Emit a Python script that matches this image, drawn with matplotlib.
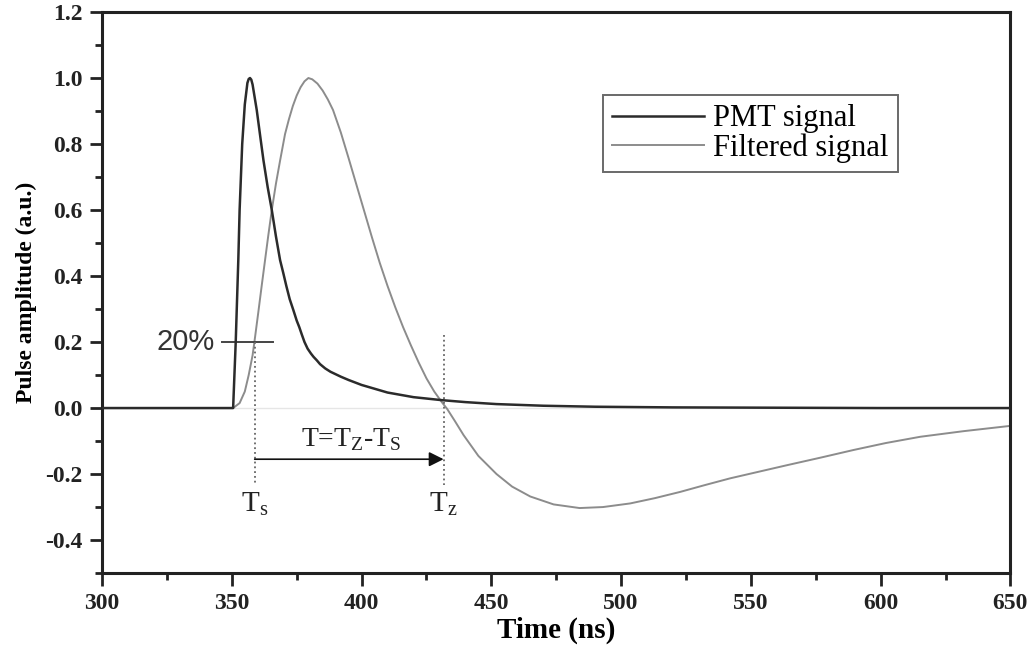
import matplotlib
matplotlib.use("Agg")
import matplotlib.pyplot as plt
from matplotlib.ticker import MultipleLocator, FormatStrFormatter

plt.rcParams['font.family'] = ['Liberation Serif', 'DejaVu Serif']
plt.rcParams['mathtext.fontset'] = 'custom'
plt.rcParams['mathtext.rm'] = 'Liberation Serif'
plt.rcParams['axes.unicode_minus'] = False

# PMT signal (ns, a.u.)
pmt_t = [300, 350, 350.5, 351.5, 352.5, 353, 354, 355, 356, 356.5, 357, 357.5,
         358, 359.6, 361, 362.2, 363.8, 365.4, 367, 368.6, 369.8, 371, 372.3,
         373.7, 375, 376, 377, 378, 379.2, 380.5, 381.5, 382.7, 384, 386, 388,
         392, 395, 400, 410, 420, 430.8, 440, 452, 470, 490, 520, 560, 600, 650]
pmt_v = [0, 0, 0.0, 0.2, 0.45, 0.6, 0.8, 0.92, 0.985, 0.997, 1.0, 0.995,
         0.98, 0.903, 0.82, 0.75, 0.67, 0.6, 0.52, 0.448, 0.41, 0.37, 0.33,
         0.297, 0.265, 0.245, 0.222, 0.2, 0.18, 0.165, 0.155, 0.145, 0.133, 0.12,
         0.11, 0.095, 0.085, 0.07, 0.047, 0.033, 0.024, 0.018, 0.012, 0.007,
         0.004, 0.002, 0.001, 0.0, 0.0]

# filtered signal
filt_t = [300, 350.5, 353, 355, 356.5, 358, 358.7, 360.2, 361.5, 362.8, 364,
          365.4, 367, 368.6, 370.5, 372, 373.5, 375, 376.5, 378, 379.5, 381,
          383, 385, 387, 389, 392, 395, 398, 401, 404, 407, 410, 413, 416, 419,
          422, 425, 428, 431, 433, 436, 439.3, 445, 452, 458, 465, 474, 484,
          493, 503.5, 513, 522.8, 532, 542, 553, 564, 577, 589.6, 602, 615.3,
          632, 650]
filt_v = [0, 0, 0.015, 0.05, 0.1, 0.16, 0.2, 0.29, 0.37, 0.448, 0.52,
          0.6, 0.68, 0.75, 0.83, 0.875, 0.915, 0.947, 0.972, 0.99, 1.0, 0.996,
          0.983, 0.962, 0.935, 0.903, 0.835, 0.757, 0.677, 0.597, 0.517, 0.44,
          0.37, 0.305, 0.245, 0.19, 0.138, 0.09, 0.05, 0.017, -0.003, -0.04,
          -0.082, -0.145, -0.2, -0.238, -0.268, -0.292, -0.303, -0.3, -0.289,
          -0.273, -0.254, -0.234, -0.213, -0.193, -0.173, -0.15, -0.127, -0.106,
          -0.087, -0.07, -0.054]

t_s = 358.8
t_z = 431.6
level = 0.2

fig = plt.figure(figsize=(10.31, 6.49), dpi=100)
ax = fig.add_axes([0.099, 0.117, 0.881, 0.8645])

ax.axhline(0, color='#e6e6e6', lw=1, zorder=0)
ax.plot(pmt_t, pmt_v, color='#2b2b2b', lw=1.8, label='PMT signal', zorder=3)
ax.plot(filt_t, filt_v, color='#8c8c8c', lw=1.4, label='Filtered signal', zorder=2)

# 20% marker
ax.plot([346.3, 365.9], [level, level], color='#444444', lw=1.4)
ax.text(343.5, level, '20%', family=['Liberation Sans', 'DejaVu Sans'],
        fontsize=21, ha='right', va='center', color='#333333')

# dotted markers
ax.plot([t_s, t_s], [level, -0.233], color='#666666', ls=':', lw=1.3)
ax.plot([t_z, t_z], [0.22, -0.233], color='#666666', ls=':', lw=1.3)
ax.annotate('', xy=(t_z, -0.155), xytext=(t_s, -0.155),
            arrowprops=dict(arrowstyle='-|>', color='#111111', lw=1.2,
                            mutation_scale=22, shrinkA=0, shrinkB=0))
ax.text(396, -0.095, r'T=T$_{\mathrm{Z}}$-T$_{\mathrm{S}}$', fontsize=20,
        ha='center', va='center', color='#222222')
ax.text(t_s, -0.29, r'T$_{\mathrm{s}}$', fontsize=21, ha='center', va='center',
        color='#222222')
ax.text(t_z, -0.29, r'T$_{\mathrm{z}}$', fontsize=21, ha='center', va='center',
        color='#222222')

ax.set_xlim(300, 650)
ax.set_ylim(-0.5, 1.2)
ax.xaxis.set_major_locator(MultipleLocator(50))
ax.xaxis.set_minor_locator(MultipleLocator(25))
ax.yaxis.set_minor_locator(MultipleLocator(0.1))
ax.yaxis.set_major_formatter(FormatStrFormatter('%.1f'))
ax.set_yticks([-0.4, -0.2, 0.0, 0.2, 0.4, 0.6, 0.8, 1.0, 1.2])

ax.tick_params(which='major', direction='out', length=9, width=2,
               labelsize=17, colors='#222222', pad=5)
ax.tick_params(which='minor', direction='out', length=5, width=2, colors='#222222')
for lab in ax.get_xticklabels() + ax.get_yticklabels():
    lab.set_fontweight('bold')
for sp in ax.spines.values():
    sp.set_linewidth(2.2)
    sp.set_color('#222222')

ax.set_xlabel('Time (ns)', fontsize=21, fontweight='bold', labelpad=2)
ax.set_ylabel('Pulse amplitude (a.u.)', fontsize=17, fontweight='bold', labelpad=6)

leg = ax.legend(loc='upper right', bbox_to_anchor=(0.876, 0.852), fontsize=22,
                frameon=True, fancybox=False, edgecolor='#444444',
                handlelength=3.0, borderpad=0.3, labelspacing=0.0,
                handletextpad=0.3, borderaxespad=0)
leg.get_frame().set_linewidth(1.4)

fig.savefig('out.png', dpi=100)
